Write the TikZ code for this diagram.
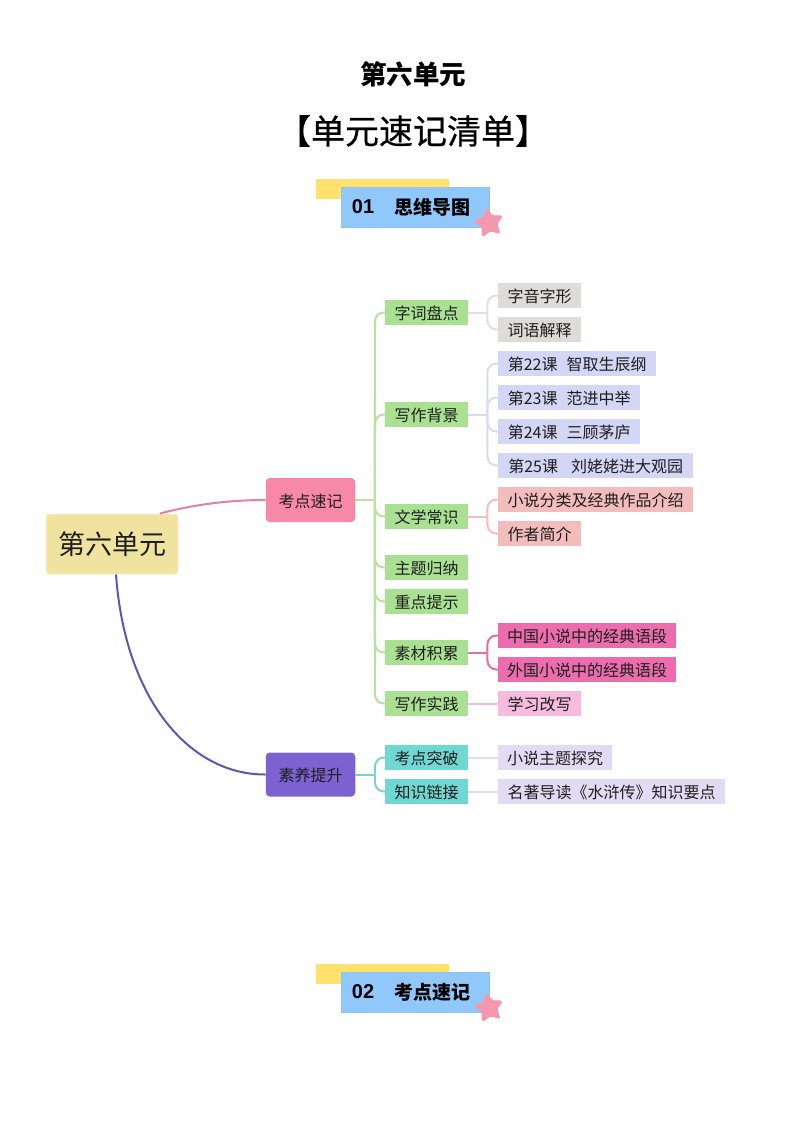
\documentclass[tikz,border=0pt]{standalone}
\usepackage{fontspec}
\setmainfont{Noto Sans CJK SC}
\newfontfamily\latinbold{Liberation Sans}
\usetikzlibrary{calc,shapes.geometric}
\definecolor{ink}{HTML}{1E1E1E}
\definecolor{gbox}{HTML}{A9E092}
\definecolor{gline}{HTML}{B7E3A0}
\definecolor{greybox}{HTML}{DEDBD8}
\definecolor{greyline}{HTML}{E2E0DE}
\definecolor{peribox}{HTML}{D3D6F5}
\definecolor{periline}{HTML}{D9DBF5}
\definecolor{salbox}{HTML}{F4BDBD}
\definecolor{hotbox}{HTML}{EC6DAE}
\definecolor{hotline}{HTML}{DD6FA6}
\definecolor{lpink}{HTML}{F6BCDD}
\definecolor{tealbox}{HTML}{70D8D3}
\definecolor{tealline}{HTML}{7AD3D0}
\definecolor{lav}{HTML}{E1DCF4}
\definecolor{rootfill}{HTML}{F0E3A0}
\definecolor{rosefill}{HTML}{F688A8}
\definecolor{rosel}{HTML}{E4819F}
\definecolor{purp}{HTML}{7B62D0}
\definecolor{purpl}{HTML}{6553B0}
\definecolor{yel}{HTML}{FFE16B}
\definecolor{skyb}{HTML}{90C8FB}
\definecolor{starc}{HTML}{F598AE}
\tikzset{
  x=1pt,y=-1pt,
  tag/.style={inner sep=0pt,minimum height=25pt,text height=14pt,text depth=0pt,text=ink,font=\fontsize{16}{16}\selectfont,anchor=west},
  lvtwo/.style={tag,fill=gbox,minimum width=83pt},
  lvtwoteal/.style={tag,fill=tealbox,minimum width=83pt},
  lvone/.style={inner sep=0pt,minimum width=89.5pt,minimum height=44pt,text height=14pt,text depth=0pt,rounded corners=4pt,text=ink,font=\fontsize{16}{16}\selectfont},
  wire/.style={line width=2pt},
  headtext/.style={font=\fontsize{19}{19}\bfseries\selectfont,text=black,inner sep=0pt},
  starmark/.style={star,star points=5,star point ratio=1.9,fill=starc,draw=starc,line width=1pt,rounded corners=1.5pt,minimum size=30pt,inner sep=0pt,rotate=10},
  bluebox/.style={fill=skyb,draw=skyb!92!gray,line width=.4pt,inner sep=0pt,minimum width=148pt,minimum height=40pt},
  yelbox/.style={fill=yel,inner sep=0pt,minimum width=133pt,minimum height=20pt},
}
\newcommand{\branch}[4]{%
  \draw[wire,#1] (#2.east) -- ++(#4,0);
  \draw[wire,#1,rounded corners=9pt] ($(#2.east)+(#4,0)$) |- (#3.west);
}
\begin{document}
\begin{tikzpicture}
\useasboundingbox (0,0) rectangle (794,1123);
\fill[white] (0,0) rectangle (794,1123);
% titles
\node[font=\fontsize{26.5}{26.5}\bfseries\selectfont,text=black,inner sep=0pt] (t1) at (413,74) {第六单元};
\node[font=\fontsize{34}{34}\selectfont\addfontfeature{FakeBold=0.5},text=black,inner sep=0pt] (t2) at (413,131) {【单元速记清单】};
% header 1
\node[yelbox] (y1) at (382.5,189) {};
\node[bluebox] (b1) at (415,207) {};
\node[starmark] (s1) at (489,223) {};
\node[font=\fontsize{20}{20}\latinbold\bfseries\selectfont,text=black,inner sep=0pt] (n1) at (363,207) {01};
\node[headtext] (h1) at (432,207) {思维导图};
% header 2
\node[yelbox] (y2) at (382.5,974) {};
\node[bluebox] (b2) at (415,992) {};
\node[starmark] (s2) at (489,1008) {};
\node[font=\fontsize{20}{20}\latinbold\bfseries\selectfont,text=black,inner sep=0pt] (n2) at (363,992) {02};
\node[headtext] (h2) at (432,992) {考点速记};
% root and first level
\node[fill=rootfill,draw=rootfill!55!white,line width=1pt,rounded corners=3pt,inner sep=0pt,minimum width=132pt,minimum height=60pt,text=ink,font=\fontsize{27}{27}\selectfont] (root) at (112,544) {第六单元};
\node[lvone,fill=rosefill] (kd) at (310.5,500) {考点速记};
\node[lvone,fill=purp] (sy) at (310.5,774.5) {素养提升};
% second level
\node[lvtwo] (a1) at (385,312.5) {字词盘点};
\node[lvtwo] (a2) at (385,414.5) {写作背景};
\node[lvtwo] (a3) at (385,516.5) {文学常识};
\node[lvtwo] (a4) at (385,567.5) {主题归纳};
\node[lvtwo] (a5) at (385,601.5) {重点提示};
\node[lvtwo] (a6) at (385,652.5) {素材积累};
\node[lvtwo] (a7) at (385,703.5) {写作实践};
\node[lvtwoteal] (b1x) at (385,757.5) {考点突破};
\node[lvtwoteal] (b2x) at (385,791.5) {知识链接};
% third level
\node[tag,fill=greybox,minimum width=83pt] (c1) at (498,295.5) {字音字形};
\node[tag,fill=greybox,minimum width=83pt] (c2) at (498,329.5) {词语解释};
\node[tag,fill=peribox,minimum width=158pt] (d1) at (498,363.5) {第22课\hspace*{9pt}智取生辰纲};
\node[tag,fill=peribox,minimum width=142pt] (d2) at (498,397.5) {第23课\hspace*{9pt}范进中举};
\node[tag,fill=peribox,minimum width=142pt] (d3) at (498,431.5) {第24课\hspace*{9pt}三顾茅庐};
\node[tag,fill=peribox,minimum width=195pt] (d4) at (498,465.5) {第25课\hspace*{13pt}刘姥姥进大观园};
\node[tag,fill=salbox,minimum width=195pt] (e1) at (498,499.5) {小说分类及经典作品介绍};
\node[tag,fill=salbox,minimum width=83pt] (e2) at (498,533.5) {作者简介};
\node[tag,fill=hotbox,minimum width=178pt] (f1) at (498,635.5) {中国小说中的经典语段};
\node[tag,fill=hotbox,minimum width=178pt] (f2) at (498,669.5) {外国小说中的经典语段};
\node[tag,fill=lpink,minimum width=83pt] (g1) at (498,703.5) {学习改写};
\node[tag,fill=lav,minimum width=114pt] (h1x) at (498,757.5) {小说主题探究};
\node[tag,fill=lav,minimum width=227pt] (h2x) at (498,791.5) {名著导读《水浒传》知识要点};
% connectors from root
\draw[wire,rosel] ([xshift=48pt]root.north) .. controls ([xshift=78pt,yshift=8pt]root.north) and ([xshift=-40pt]kd.west) .. (kd.west);
\draw[wire,purpl] ([xshift=4pt]root.south) .. controls (125,700) and (190,775) .. (sy.west);
% connectors level 1 to 2
\foreach \c in {a1,a2,a3,a4,a5,a6,a7}{\branch{gline}{kd}{\c}{19.5pt}}
\foreach \c in {b1x,b2x}{\branch{tealline}{sy}{\c}{19.5pt}}
% connectors level 2 to 3
\foreach \c in {c1,c2}{\branch{greyline}{a1}{\c}{19pt}}
\foreach \c in {d1,d2,d3,d4}{\branch{periline}{a2}{\c}{19pt}}
\foreach \c in {e1,e2}{\branch{salbox}{a3}{\c}{19pt}}
\foreach \c in {f1,f2}{\branch{hotline}{a6}{\c}{19pt}}
\draw[wire,lpink] (a7.east) -- (g1.west);
\draw[wire,lav] (b1x.east) -- (h1x.west);
\draw[wire,lav] (b2x.east) -- (h2x.west);
\end{tikzpicture}
\end{document}
